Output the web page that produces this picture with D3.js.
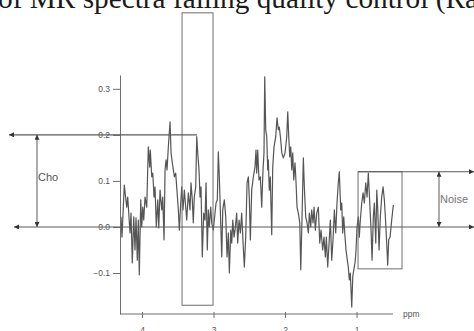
<!DOCTYPE html>
<html>
<head>
<meta charset="utf-8">
<script src="https://cdn.jsdelivr.net/npm/d3@7"></script>
<style>
  html, body { margin: 0; padding: 0; background: #fff; overflow: hidden; }
  svg { display: block; }
</style>
</head>
<body>
<svg id="chart" width="474" height="331"></svg>
<script>
// ---- data ----
const ppm = [
  4.294,4.280,4.248,4.214,4.200,4.168,4.154,4.136,4.116,4.098,4.084,4.066,4.052,4.038,4.018,4.004,
  3.990,3.976,3.958,3.934,3.912,3.892,3.884,3.864,3.850,3.832,3.818,3.800,3.780,3.766,3.748,3.724,
  3.710,3.692,3.678,3.664,3.650,3.632,3.608,3.594,3.576,3.562,3.548,3.529,3.515,3.492,3.478,3.464,
  3.445,3.427,3.408,3.375,3.352,3.329,3.315,3.297,3.283,3.269,3.249,3.235,3.221,3.203,3.189,3.175,
  3.157,3.137,3.119,3.105,3.087,3.073,3.059,3.039,3.025,3.003,2.989,2.965,2.947,2.933,2.919,2.905,
  2.885,2.871,2.849,2.829,2.811,2.793,2.779,2.759,2.745,2.731,2.713,2.699,2.676,2.662,2.643,2.625,
  2.606,2.587,2.569,2.550,2.531,2.513,2.499,2.485,2.466,2.443,2.420,2.406,2.396,2.382,2.364,2.345,
  2.326,2.308,2.294,2.284,2.270,2.256,2.242,2.234,2.220,2.206,2.186,2.172,2.154,2.130,2.112,2.094,
  2.080,2.060,2.046,2.024,2.000,1.976,1.962,1.948,1.934,1.920,1.906,1.892,1.878,1.860,1.846,1.832,
  1.814,1.794,1.780,1.762,1.744,1.730,1.711,1.692,1.674,1.660,1.641,1.627,1.608,1.594,1.576,1.557,
  1.534,1.515,1.497,1.473,1.455,1.436,1.422,1.403,1.366,1.347,1.329,1.310,1.291,1.273,1.255,1.241,
  1.221,1.207,1.193,1.179,1.161,1.147,1.129,1.115,1.101,1.087,1.067,1.053,1.039,1.021,1.007,0.993,
  0.975,0.961,0.947,0.927,0.909,0.891,0.871,0.853,0.835,0.815,0.797,0.783,0.765,0.751,0.731,0.717,
  0.703,0.685,0.667,0.648,0.629,0.611,0.597,0.578,0.564,0.550,0.531,0.508,0.485
];
const intensity = [
  0.022,-0.022,0.091,0.043,0.065,-0.013,0.030,-0.078,0.022,-0.050,0.020,-0.072,0.015,-0.104,0.059,0.000,
  0.043,0.015,0.065,0.043,0.174,0.130,0.167,0.109,0.117,0.065,0.087,0.000,0.059,-0.002,0.080,0.037,
  0.065,-0.028,0.124,0.146,0.124,0.174,0.228,0.161,0.139,0.124,0.109,0.117,0.087,0.037,-0.007,0.037,
  0.087,0.037,0.080,0.015,0.074,0.037,0.096,0.059,0.009,0.065,0.087,0.196,0.161,0.124,0.065,0.087,
  -0.065,0.030,0.015,0.096,-0.050,0.037,0.000,0.043,0.009,-0.007,0.015,0.052,0.059,0.163,0.109,0.037,
  -0.065,0.037,0.059,0.022,-0.065,-0.013,-0.100,-0.007,-0.035,0.015,-0.022,-0.007,0.030,-0.035,0.015,-0.013,
  0.030,-0.035,-0.087,-0.022,0.096,0.109,0.059,-0.028,0.080,0.109,0.130,0.167,0.117,0.167,0.102,0.109,
  0.043,0.124,0.161,0.326,0.211,0.196,0.124,0.146,0.080,0.109,-0.017,0.130,0.174,0.196,0.237,0.211,
  0.217,0.189,0.161,0.150,0.161,0.196,0.250,0.196,0.152,0.174,0.124,0.161,0.102,0.139,0.096,0.043,
  0.030,0.009,-0.093,0.022,0.150,0.087,0.022,0.009,-0.013,0.030,0.000,0.037,0.009,0.043,-0.007,0.030,
  0.043,-0.035,-0.007,-0.050,-0.022,-0.065,-0.022,-0.087,0.015,-0.072,-0.028,0.037,-0.013,0.052,0.096,0.120,
  0.037,0.052,-0.013,0.022,-0.022,-0.050,-0.072,-0.087,-0.115,-0.100,-0.174,-0.109,-0.093,-0.078,-0.050,0.000,
  0.022,-0.022,0.015,0.052,0.074,0.052,0.096,0.065,0.117,0.052,-0.007,-0.072,0.022,0.052,-0.035,0.080,
  0.037,-0.050,0.022,0.065,0.087,0.059,0.022,-0.035,-0.083,-0.028,-0.022,0.015,0.048
];
const yTicks = [-0.1, 0.0, 0.1, 0.2, 0.3];
const xTicks = [4, 3, 2, 1];
const xUnit = "ppm";
const choLevel = 0.2;        // Cho peak height
const baseLevel = 0.0;       // baseline
const noiseTop = 0.12;       // noise max
const noiseBottom = -0.091;  // noise box bottom
const choBox = [3.44, 3.007, 0.465, -0.170];   // ppm from, ppm to, top, bottom
const noiseBox = [0.979, 0.364];                // ppm from, ppm to
const titleText = "of MR spectra failing quality control (Ra";

// ---- drawing ----
const svg = d3.select("#chart");
const x = d3.scaleLinear().domain([4.308, 0.49]).range([120, 393]);
const y = d3.scaleLinear().domain([-0.189, 0.330]).range([314, 75]);

const grey = "#6e6e6e";

// title fragment (cut at top)
svg.append("text")
  .attr("x", -2).attr("y", 8)
  .attr("font-family", "'Liberation Serif', 'Times New Roman', serif")
  .attr("font-size", 29.3)
  .attr("fill", "#1a1a1a")
  .text(titleText);

// markers
const defs = svg.append("defs");
defs.append("marker").attr("id", "arr")
  .attr("viewBox", "0 0 10 10").attr("refX", 10).attr("refY", 5)
  .attr("markerWidth", 6).attr("markerHeight", 5).attr("markerUnits", "userSpaceOnUse")
  .attr("orient", "auto-start-reverse")
  .append("path").attr("d", "M0,0 L10,5 L0,10 Z").attr("fill", "#333");

// spectrum
const pts = ppm.map((p, i) => [p, intensity[i]]);
svg.append("path")
  .datum(pts)
  .attr("fill", "none")
  .attr("stroke", "#555")
  .attr("stroke-width", 1.2)
  .attr("stroke-linejoin", "round")
  .attr("d", d3.line().x(d => x(d[0])).y(d => y(d[1])));

// axes
const yAxis = svg.append("g").attr("transform", "translate(120,0)")
  .call(d3.axisLeft(y).tickValues(yTicks).tickFormat(d3.format(".1f")).tickSize(7).tickSizeOuter(0).tickPadding(3));
const xAxis = svg.append("g").attr("transform", "translate(0,314)")
  .call(d3.axisBottom(x).tickValues(xTicks).tickFormat(d3.format("d")).tickSize(4).tickSizeOuter(0));
xAxis.select(".domain").attr("d", `M${x.range()[0]},0H${x.range()[1]}`);
xAxis.selectAll(".tick line").attr("y1", -2).attr("y2", 4);
xAxis.selectAll(".tick text").attr("y", 13);
[yAxis, xAxis].forEach(g => {
  g.selectAll(".domain, .tick line").attr("stroke", grey);
  g.selectAll(".tick text").attr("fill", "#555").attr("font-family", "Arial, 'Liberation Sans', sans-serif").attr("font-size", 8.5);
});
svg.append("text").attr("x", 403).attr("y", 317)
  .attr("font-family", "Arial, 'Liberation Sans', sans-serif").attr("font-size", 8.5)
  .attr("fill", "#555").text(xUnit);

// annotation boxes
svg.append("rect")
  .attr("x", x(choBox[0])).attr("y", y(choBox[2]))
  .attr("width", x(choBox[1]) - x(choBox[0])).attr("height", y(choBox[3]) - y(choBox[2]))
  .attr("fill", "none").attr("stroke", grey).attr("stroke-width", 1);
svg.append("rect")
  .attr("x", x(noiseBox[0])).attr("y", y(noiseTop))
  .attr("width", x(noiseBox[1]) - x(noiseBox[0])).attr("height", y(noiseBottom) - y(noiseTop))
  .attr("fill", "none").attr("stroke", grey).attr("stroke-width", 1);

// reference lines
const hl = (x1, x2, v, startArrow, endArrow) => {
  const l = svg.append("line").attr("x1", x1).attr("x2", x2)
    .attr("y1", y(v)).attr("y2", y(v))
    .attr("stroke", "#5a5a5a").attr("stroke-width", 1.1);
  if (startArrow) l.attr("marker-start", "url(#arr)");
  if (endArrow) l.attr("marker-end", "url(#arr)");
};
hl(9, 197, choLevel, true, false);
hl(14, 474, baseLevel, true, true);
hl(x(noiseBox[0]), 474, noiseTop, false, true);

const vl = (xp, v1, v2) => svg.append("line").attr("x1", xp).attr("x2", xp)
  .attr("y1", y(v1)).attr("y2", y(v2))
  .attr("stroke", "#5a5a5a").attr("stroke-width", 1)
  .attr("marker-start", "url(#arr)").attr("marker-end", "url(#arr)");
vl(37, choLevel, baseLevel);
vl(439, noiseTop, baseLevel);

svg.append("text").attr("x", 38).attr("y", 181)
  .attr("font-family", "Arial, 'Liberation Sans', sans-serif").attr("font-size", 11)
  .attr("fill", "#555").text("Cho");
svg.append("text").attr("x", 440).attr("y", 203)
  .attr("font-family", "Arial, 'Liberation Sans', sans-serif").attr("font-size", 11)
  .attr("fill", "#777").text("Noise");
</script>
</body>
</html>
